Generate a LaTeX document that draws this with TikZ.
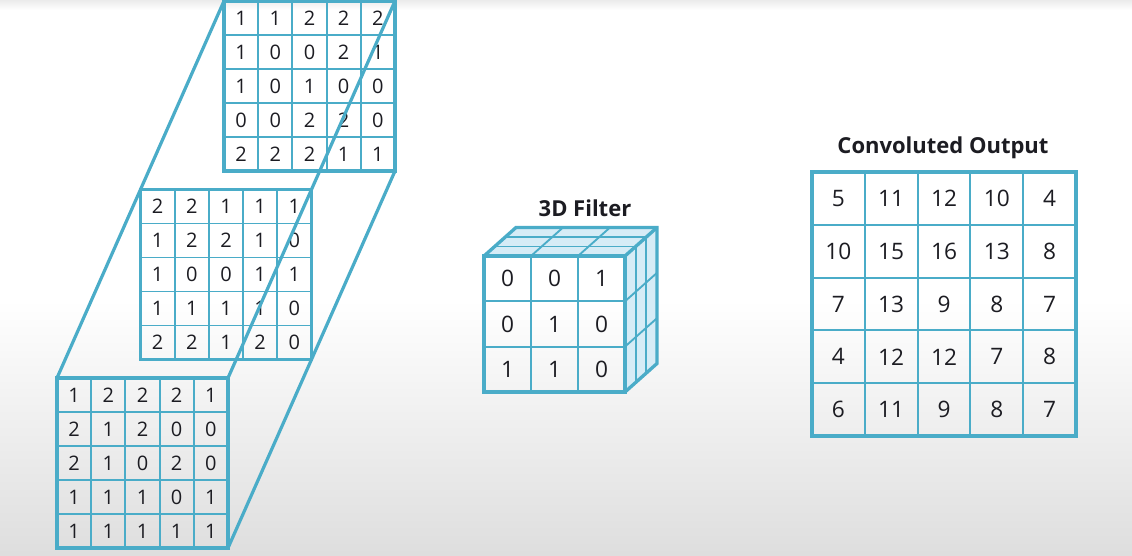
\documentclass[tikz,border=0pt]{standalone}
\usepackage{fontspec}
\setmainfont{Open Sans}
\definecolor{gridc}{RGB}{74,172,200}
\definecolor{facec}{RGB}{214,236,246}
\definecolor{txtc}{RGB}{28,28,34}
\newcommand\mygrid[8]{% name, x0, y0, cellx, celly, n, node style, rows
  \pgfmathtruncatemacro\nm{#6-1}
  \coordinate (#1-nw) at (#2,#3);
  \coordinate (#1-ne) at ({#2+#6*#4},#3);
  \coordinate (#1-sw) at (#2,{#3+#6*#5});
  \coordinate (#1-se) at ({#2+#6*#4},{#3+#6*#5});
  \foreach \i in {1,...,\nm} {
    \draw[innerline] ({#2+\i*#4},#3) -- ({#2+\i*#4},{#3+#6*#5});
    \draw[innerline] (#2,{#3+\i*#5}) -- ({#2+#6*#4},{#3+\i*#5});
  }
  \draw[outerline] (#1-nw) rectangle (#1-se);
  \foreach \row [count=\r] in {#8} {
    \foreach \v [count=\c] in \row {
      \node[#7] (#1-\r-\c) at ({#2+(\c-0.5)*#4},{#3+(\r-0.5)*#5}) {\v};
    }
  }
}
\begin{document}
\begin{tikzpicture}[x=0.75pt,y=-0.75pt,
  innerline/.style={draw=gridc,line width=1.4pt},
  outerline/.style={draw=gridc,line width=2.5pt,line join=miter},
  edgeline/.style={draw=gridc,line width=2.4pt},
  facefill/.style={fill=facec},
  smallnum/.style={text=txtc,font=\fontsize{15}{16}\selectfont,inner sep=0pt},
  bignum/.style={text=txtc,font=\fontsize{17}{18}\selectfont,inner sep=0pt},
  titletext/.style={text=txtc,font=\bfseries\fontsize{16.5}{19}\selectfont,inner sep=0pt}]
\useasboundingbox (0,0) rectangle (1132,556);
\fill[white] (0,0) rectangle (1132,556);
\shade[top color=white,bottom color=black!13] (0,300) rectangle (1132,556);
\shade[top color=black!8,bottom color=white] (0,0) rectangle (1132,10);

% input volume: three 5x5 channels
\mygrid{T}{224}{1}{34.2}{34}{5}{smallnum}{{1,1,2,2,2},{1,0,0,2,1},{1,0,1,0,0},{0,0,2,2,0},{2,2,2,1,1}}
\mygrid{M}{140.5}{189.5}{34.2}{34}{5}{smallnum}{{2,2,1,1,1},{1,2,2,1,0},{1,0,0,1,1},{1,1,1,1,0},{2,2,1,2,0}}
\mygrid{B}{57}{378}{34.2}{34}{5}{smallnum}{{1,2,2,2,1},{2,1,2,0,0},{2,1,0,2,0},{1,1,1,0,1},{1,1,1,1,1}}
\draw[edgeline] (B-nw) -- (T-nw);
\draw[edgeline] (B-ne) -- (T-ne);
\draw[edgeline] (B-se) -- (T-se);

% 3D filter
\fill[facefill] (484,256) -- (625,256) -- (657,227.5) -- (516,227.5) -- cycle;
\fill[facefill] (625,256) -- (657,227.5) -- (657,363.5) -- (625,392) -- cycle;
\foreach \k in {1,2} {
  \draw[innerline] ({484+\k*47},256) -- ({516+\k*47},227.5);
  \draw[innerline] ({484+\k*32/3},{256-\k*28.5/3}) -- ({625+\k*32/3},{256-\k*28.5/3});
  \draw[innerline] ({625+\k*32/3},{256-\k*28.5/3}) -- ({625+\k*32/3},{392-\k*28.5/3});
  \draw[innerline] (625,{256+\k*45.33}) -- (657,{227.5+\k*45.33});
}
\draw[outerline] (484,256) -- (516,227.5) -- (657,227.5) -- (657,363.5) -- (625,392);
\draw[outerline] (625,256) -- (657,227.5);
\mygrid{F}{484}{256}{47}{45.33}{3}{bignum}{{0,0,1},{0,1,0},{1,1,0}}
\node[titletext] (ftitle) at (585,208) {3D Filter};

% output
\mygrid{O}{812}{172}{52.8}{52.8}{5}{bignum}{{5,11,12,10,4},{10,15,16,13,8},{7,13,9,8,7},{4,12,12,7,8},{6,11,9,8,7}}
\node[titletext] (otitle) at (943,148) {Convoluted Output};
\end{tikzpicture}
\end{document}
